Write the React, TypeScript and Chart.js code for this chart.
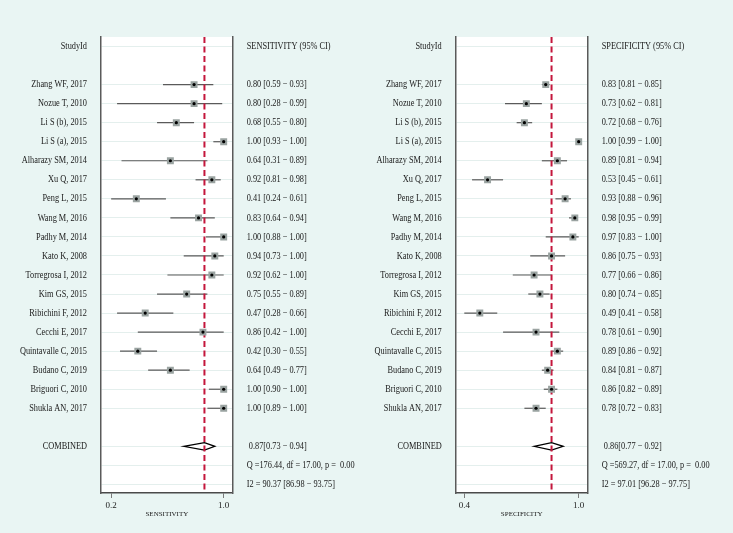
import React, { useEffect, useRef } from 'react';
import { Chart, registerables } from 'chart.js';

Chart.register(...registerables);

// ---------- data ----------
const studies = [
  'Zhang WF, 2017', 'Nozue T, 2010', 'Li S (b), 2015', 'Li S (a), 2015', 'Alharazy SM, 2014',
  'Xu Q, 2017', 'Peng L, 2015', 'Wang M, 2016', 'Padhy M, 2014', 'Kato K, 2008',
  'Torregrosa I, 2012', 'Kim GS, 2015', 'Ribichini F, 2012', 'Cecchi E, 2017',
  'Quintavalle C, 2015', 'Budano C, 2019', 'Briguori C, 2010', 'Shukla AN, 2017',
];

const sens = [0.80, 0.80, 0.68, 1.00, 0.64, 0.92, 0.41, 0.83, 1.00, 0.94, 0.92, 0.75, 0.47, 0.86, 0.42, 0.64, 1.00, 1.00];
const sensLo = [0.59, 0.28, 0.55, 0.93, 0.31, 0.81, 0.24, 0.64, 0.88, 0.73, 0.62, 0.55, 0.28, 0.42, 0.30, 0.49, 0.90, 0.89];
const sensHi = [0.93, 0.99, 0.80, 1.00, 0.89, 0.98, 0.61, 0.94, 1.00, 1.00, 1.00, 0.89, 0.66, 1.00, 0.55, 0.77, 1.00, 1.00];
const sensPooled = [0.87, 0.73, 0.94];
const sensStats = ['Q =176.44, df = 17.00, p =  0.00', 'I2 = 90.37 [86.98 \u2212 93.75]'];
const sensTickValues = [0.24, 1.0];
const sensTickLabels = ['0.2', '1.0'];

const spec = [0.83, 0.73, 0.72, 1.00, 0.89, 0.53, 0.93, 0.98, 0.97, 0.86, 0.77, 0.80, 0.49, 0.78, 0.89, 0.84, 0.86, 0.78];
const specLo = [0.81, 0.62, 0.68, 0.99, 0.81, 0.45, 0.88, 0.95, 0.83, 0.75, 0.66, 0.74, 0.41, 0.61, 0.86, 0.81, 0.82, 0.72];
const specHi = [0.85, 0.81, 0.76, 1.00, 0.94, 0.61, 0.96, 0.99, 1.00, 0.93, 0.86, 0.85, 0.58, 0.90, 0.92, 0.87, 0.89, 0.83];
const specPooled = [0.86, 0.77, 0.92];
const specStats = ['Q =569.27, df = 17.00, p =  0.00', 'I2 = 97.01 [96.28 \u2212 97.75]'];
const specTickValues = [0.41, 1.0];
const specTickLabels = ['0.4', '1.0'];

// ---------- style ----------
const FONT = '"Liberation Serif", "Times New Roman", serif';
const BG = '#e9f5f3';
const TEXT = '#1a1a1a';
const W = 733;
const H = 533;
const TEXT_SCALE_X = 0.83;

const fmt = (v: number) => v.toFixed(2);

type Panel = {
  est: number[]; lo: number[]; hi: number[]; pooled: number[]; stats: string[];
  header: string; axisTitle: string; tickValues: number[]; tickLabels: string[];
  xMin: number; xMax: number; padLeft: number; padRight: number;
  nameX: number; textX: number;
};

const nStudies = studies.length;
const rowCombined = nStudies + 1;
const rowQ = nStudies + 2;
const rowI2 = nStudies + 3;
const gridRows = [-2, ...studies.map((_, i) => i), rowCombined, rowQ, rowI2];

function drawText(ctx: CanvasRenderingContext2D, text: string, x: number, y: number) {
  ctx.save();
  ctx.translate(x, y);
  ctx.scale(TEXT_SCALE_X, 1);
  ctx.fillText(text, 0, 0);
  ctx.restore();
}

function buildChart(canvas: HTMLCanvasElement, p: Panel) {
  const plugin = {
    id: 'forest',
    beforeDraw(chart: any) {
      const { ctx, chartArea: a } = chart;
      ctx.save();
      ctx.fillStyle = '#ffffff';
      ctx.fillRect(a.left, a.top, a.right - a.left, a.bottom - a.top);
      ctx.restore();
    },
    beforeDatasetsDraw(chart: any) {
      const { ctx, chartArea: a } = chart;
      const xs = chart.scales.x;
      const ys = chart.scales.y;
      ctx.save();
      // CI whiskers
      ctx.strokeStyle = '#5a5a5a';
      ctx.lineWidth = 1.2;
      p.est.forEach((_, i) => {
        const y = ys.getPixelForValue(i);
        ctx.beginPath();
        ctx.moveTo(xs.getPixelForValue(p.lo[i]), y);
        ctx.lineTo(xs.getPixelForValue(p.hi[i]), y);
        ctx.stroke();
      });
      // pooled diamond
      const yc = ys.getPixelForValue(rowCombined);
      const h = 3.8;
      ctx.beginPath();
      ctx.moveTo(xs.getPixelForValue(p.pooled[1]), yc);
      ctx.lineTo(xs.getPixelForValue(p.pooled[0]), yc - h);
      ctx.lineTo(xs.getPixelForValue(p.pooled[2]), yc);
      ctx.lineTo(xs.getPixelForValue(p.pooled[0]), yc + h);
      ctx.closePath();
      ctx.fillStyle = '#ffffff';
      ctx.fill();
      ctx.strokeStyle = '#000000';
      ctx.lineWidth = 1.3;
      ctx.stroke();
      // pooled reference dashed line
      const xp = xs.getPixelForValue(p.pooled[0]);
      ctx.strokeStyle = '#c4163c';
      ctx.lineWidth = 2;
      ctx.setLineDash([6, 3.5]);
      ctx.beginPath();
      ctx.moveTo(xp, a.top);
      ctx.lineTo(xp, a.bottom);
      ctx.stroke();
      ctx.restore();
    },
    afterDraw(chart: any) {
      const { ctx } = chart;
      const ys = chart.scales.y;
      ctx.save();
      ctx.fillStyle = TEXT;
      ctx.font = `10px ${FONT}`;
      ctx.textBaseline = 'middle';
      // study labels
      ctx.textAlign = 'right';
      drawText(ctx, 'StudyId', p.nameX, ys.getPixelForValue(-2));
      studies.forEach((s, i) => drawText(ctx, s, p.nameX, ys.getPixelForValue(i)));
      drawText(ctx, 'COMBINED', p.nameX, ys.getPixelForValue(rowCombined));
      // estimate column
      ctx.textAlign = 'left';
      drawText(ctx, p.header, p.textX, ys.getPixelForValue(-2));
      p.est.forEach((v, i) =>
        drawText(ctx, `${fmt(v)} [${fmt(p.lo[i])} \u2212 ${fmt(p.hi[i])}]`, p.textX, ys.getPixelForValue(i))
      );
      drawText(ctx, ` ${fmt(p.pooled[0])}[${fmt(p.pooled[1])} \u2212 ${fmt(p.pooled[2])}]`, p.textX, ys.getPixelForValue(rowCombined));
      drawText(ctx, p.stats[0], p.textX, ys.getPixelForValue(rowQ));
      drawText(ctx, p.stats[1], p.textX, ys.getPixelForValue(rowI2));
      ctx.restore();
    },
  };

  const yAxisCommon = {
    type: 'linear' as const,
    reverse: true,
    min: -2.5,
    max: 21.45,
    ticks: { display: false },
    afterFit: (s: any) => { s.width = 0; },
  };

  return new Chart(canvas, {
    type: 'scatter',
    data: {
      datasets: [
        {
          // centre dots (index 0 is drawn on top)
          data: p.est.map((v, i) => ({ x: v, y: i })),
          pointStyle: 'circle',
          pointRadius: 1.6,
          backgroundColor: '#000000',
          borderWidth: 0,
        },
        {
          // weight squares
          data: p.est.map((v, i) => ({ x: v, y: i })),
          pointStyle: 'rect',
          pointRadius: 4.9,
          backgroundColor: '#9aa3a1',
          borderWidth: 0,
        },
      ],
    },
    options: {
      responsive: false,
      animation: false,
      layout: { padding: { left: p.padLeft, right: p.padRight, top: 37, bottom: 0 } },
      plugins: { legend: { display: false }, tooltip: { enabled: false } },
      scales: {
        x: {
          type: 'linear',
          position: 'bottom',
          min: p.xMin,
          max: p.xMax,
          afterBuildTicks: (s: any) => { s.ticks = p.tickValues.map((v) => ({ value: v })); },
          afterFit: (s: any) => { s.height = 40; },
          ticks: {
            autoSkip: false,
            maxRotation: 0,
            padding: 2,
            color: TEXT,
            font: { family: FONT, size: 9 },
            callback: (_v: any, i: number) => p.tickLabels[i],
          },
          grid: { drawOnChartArea: false, drawTicks: true, tickLength: 5, color: '#7a7a7a', lineWidth: 1 },
          border: { display: true, color: '#4a4a4a', width: 1.5 },
          title: {
            display: true,
            text: p.axisTitle,
            color: TEXT,
            font: { family: FONT, size: 7 },
            padding: { top: 1, bottom: 15 },
          },
        },
        y: {
          ...yAxisCommon,
          position: 'left',
          afterBuildTicks: (s: any) => { s.ticks = gridRows.map((v) => ({ value: v })); },
          grid: { color: '#e4efed', lineWidth: 1, drawTicks: false },
          border: { display: true, color: '#5a5a5a', width: 1.5 },
        },
        y2: {
          ...yAxisCommon,
          position: 'right',
          grid: { display: false, drawTicks: false },
          border: { display: true, color: '#5a5a5a', width: 1.5 },
        },
      },
    } as any,
    plugins: [plugin],
  });
}

const leftPanel: Panel = {
  est: sens, lo: sensLo, hi: sensHi, pooled: sensPooled, stats: sensStats,
  header: 'SENSITIVITY (95% CI)', axisTitle: 'SENSITIVITY',
  tickValues: sensTickValues, tickLabels: sensTickLabels,
  xMin: 0.1715, xMax: 1.0608, padLeft: 101, padRight: W - 232.7,
  nameX: 87, textX: 246.7,
};

const rightPanel: Panel = {
  est: spec, lo: specLo, hi: specHi, pooled: specPooled, stats: specStats,
  header: 'SPECIFICITY (95% CI)', axisTitle: 'SPECIFICITY',
  tickValues: specTickValues, tickLabels: specTickLabels,
  xMin: 0.3672, xMax: 1.0444, padLeft: 456, padRight: W - 587.3,
  nameX: 441.7, textX: 601.7,
};

function PanelCanvas({ panel }: { panel: Panel }) {
  const ref = useRef<HTMLCanvasElement | null>(null);
  useEffect(() => {
    if (!ref.current) return;
    const c = buildChart(ref.current, panel);
    return () => c.destroy();
  }, [panel]);
  return (
    <canvas
      ref={ref}
      width={W}
      height={H}
      style={{ position: 'absolute', left: 0, top: 0, width: W, height: H }}
    />
  );
}

export default function App() {
  return (
    <div style={{ position: 'absolute', left: 0, top: 0, width: W, height: H, background: BG, overflow: 'hidden' }}>
      <PanelCanvas panel={leftPanel} />
      <PanelCanvas panel={rightPanel} />
    </div>
  );
}
